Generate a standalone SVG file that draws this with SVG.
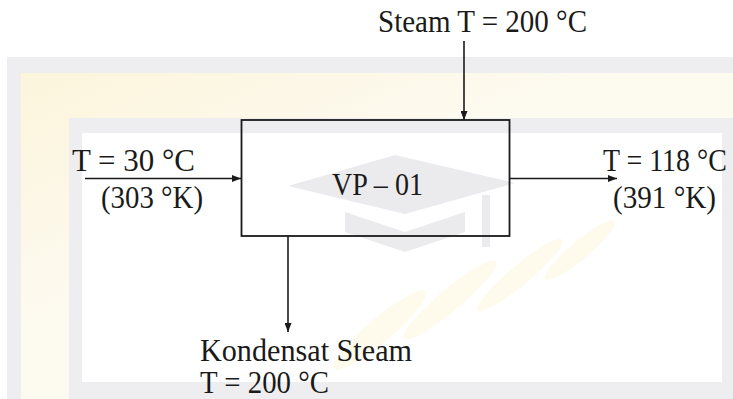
<svg xmlns="http://www.w3.org/2000/svg" width="733" height="399" viewBox="0 0 733 399">
  <defs>
    <style>
      .lbl { font-family: "Liberation Serif", "Times New Roman", serif; font-size: 31px; fill: #1a1a1a; }
      .line { stroke: #1a1a1a; stroke-width: 1.6; fill: none; }
      .box { stroke: #1a1a1a; stroke-width: 1.8; fill: none; }
      .wm { fill: #ebebee; }
      .leaf { fill: #fefaec; }
    </style>
    <linearGradient id="beige" x1="0" y1="0" x2="1" y2="1">
      <stop offset="0" stop-color="#fcf5dc"/>
      <stop offset="0.4" stop-color="#fdfaf0"/>
      <stop offset="1" stop-color="#fdfaf1"/>
    </linearGradient>
    <marker id="arrow" markerUnits="userSpaceOnUse" markerWidth="9" markerHeight="7" refX="9" refY="3.5" orient="auto">
      <path d="M0,0 L9,3.5 L0,7 z" fill="#1a1a1a"/>
    </marker>
  </defs>

  <g id="background">
    <rect x="0" y="0" width="733" height="399" fill="#ffffff"/>
    <rect x="7" y="57" width="726" height="342" fill="#eeeef0"/>
    <rect x="21" y="73" width="712" height="326" fill="url(#beige)"/>
    <rect x="69" y="118" width="664" height="281" fill="#eeeef0"/>
    <rect x="82" y="133" width="640" height="249" fill="#ffffff"/>
    <ellipse class="leaf" cx="380" cy="330" rx="60" ry="12" transform="rotate(-40 380 330)"/>
    <ellipse class="leaf" cx="450" cy="300" rx="60" ry="11" transform="rotate(-40 450 300)"/>
    <ellipse class="leaf" cx="520" cy="275" rx="55" ry="10" transform="rotate(-40 520 275)"/>
    <ellipse class="leaf" cx="580" cy="250" rx="45" ry="9" transform="rotate(-40 580 250)"/>
    <polygon class="wm" points="288,186 395,155 515,183 405,214"/>
    <polygon class="wm" points="345,212 405,232 465,212 465,232 405,252 345,232"/>
    <rect class="wm" x="482" y="195" width="8" height="52"/>
  </g>

  <g id="connectors">
    <line class="line" x1="464" y1="41" x2="464" y2="120" marker-end="url(#arrow)"/>
    <line class="line" x1="85" y1="178.5" x2="241" y2="178.5" marker-end="url(#arrow)"/>
    <line class="line" x1="509.5" y1="178.5" x2="617" y2="178.5" marker-end="url(#arrow)"/>
    <line class="line" x1="288" y1="236" x2="288" y2="332" marker-end="url(#arrow)"/>
  </g>

  <g id="vp01">
    <rect class="box" x="241.5" y="120" width="268" height="116"/>
    <text class="lbl" x="332" y="195" textLength="91" lengthAdjust="spacingAndGlyphs">VP – 01</text>
  </g>

  <g id="steam-in">
    <text class="lbl" x="378" y="32" textLength="209" lengthAdjust="spacingAndGlyphs">Steam T = 200 °C</text>
  </g>

  <g id="feed-in">
    <text class="lbl" x="72" y="171" textLength="123" lengthAdjust="spacingAndGlyphs">T = 30 °C</text>
    <text class="lbl" x="101" y="208" textLength="102" lengthAdjust="spacingAndGlyphs">(303 °K)</text>
  </g>

  <g id="product-out">
    <text class="lbl" transform="translate(603,171) scale(0.9,1)" x="0" y="0">T = 118 °C</text>
    <text class="lbl" x="613" y="208" textLength="103" lengthAdjust="spacingAndGlyphs">(391 °K)</text>
  </g>

  <g id="condensate-out">
    <text class="lbl" x="200" y="360.5" textLength="212" lengthAdjust="spacingAndGlyphs">Kondensat Steam</text>
    <text class="lbl" x="200" y="393" textLength="129" lengthAdjust="spacingAndGlyphs">T = 200 °C</text>
  </g>
</svg>
